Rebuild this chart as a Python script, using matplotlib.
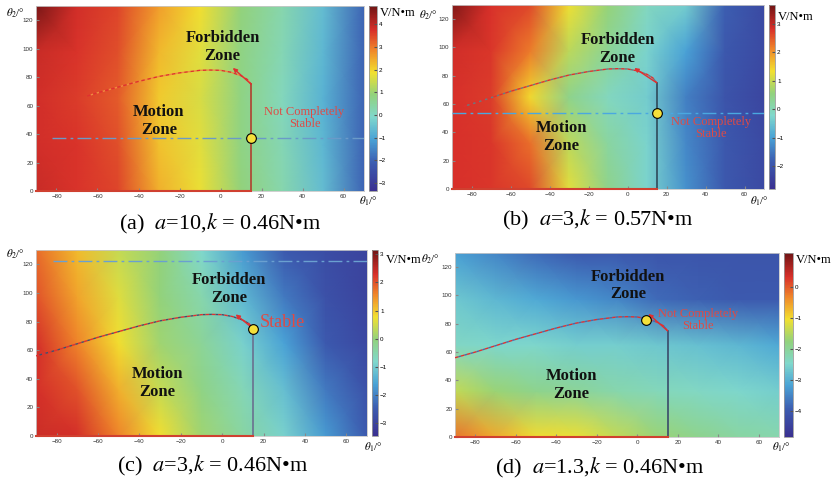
import numpy as np
import matplotlib
matplotlib.use('Agg')
import matplotlib.pyplot as plt
from matplotlib.colors import LinearSegmentedColormap

plt.rcParams['font.family'] = ['Liberation Serif', 'DejaVu Serif']
plt.rcParams['mathtext.fontset'] = 'stix'

# ---------------------------------------------------------------
# data
# ---------------------------------------------------------------
# nodes at which the potential V (N*m) was read from the colours
theta1_nodes = [-90, -70, -50, -30, -10, 10, 30, 50, 70]
theta2_nodes = [0, 32.5, 65, 97.5, 130]

V_a = [[3.9, 3.7, 3.5, 2.4, 1.8, 0.9, 0.3, -0.6, -2.0],
       [3.8, 3.7, 3.4, 2.2, 1.7, 0.8, 0.2, -0.7, -2.0],
       [3.8, 3.6, 3.3, 2.1, 1.6, 0.8, 0.1, -0.8, -2.0],
       [3.9, 3.7, 3.4, 2.3, 1.7, 0.8, 0.2, -0.7, -2.0],
       [4.7, 3.8, 3.5, 2.6, 1.9, 0.9, 0.3, -0.6, -2.0]]

V_b = [[2.8, 2.75, 2.6, 1.2, 0.4, -0.3, -1.2, -1.9, -2.2],
       [2.8, 2.75, 2.3, 0.9, 0.2, -0.3, -1.3, -1.9, -2.2],
       [2.8, 2.7, 1.4, 0.4, -0.1, -0.4, -1.4, -2.0, -2.3],
       [2.85, 2.75, 2.2, 0.9, 0.3, -0.3, -1.0, -1.9, -2.2],
       [3.5, 2.8, 2.6, 1.3, 0.6, -0.1, -0.4, -1.8, -2.2]]

V_c = [[2.4, 2.3, 1.6, 0.8, 0.1, -0.4, -0.9, -1.7, -2.5],
       [2.3, 2.0, 1.2, 0.4, -0.1, -0.6, -1.2, -2.1, -2.7],
       [2.3, 1.6, 0.8, 0.1, -0.3, -0.9, -1.6, -2.5, -2.9],
       [2.0, 1.3, 0.6, 0.0, -0.5, -1.3, -2.1, -2.7, -3.0],
       [1.8, 1.1, 0.4, 0.0, -0.8, -1.7, -2.5, -2.8, -3.0]]

V_d = [[-0.2, -0.6, -1.0, -1.1, -1.4, -1.7, -1.9, -2.1, -2.2],
       [-1.4, -1.7, -1.9, -2.0, -2.2, -2.3, -2.4, -2.5, -2.6],
       [-2.4, -2.5, -2.5, -2.6, -2.6, -2.7, -2.8, -2.9, -3.1],
       [-2.7, -2.9, -3.1, -3.3, -3.5, -3.8, -3.9, -4.0, -4.0],
       [-3.2, -3.5, -3.8, -4.0, -4.0, -4.1, -4.1, -4.1, -4.1]]

# colour limits and colorbar ticks of each panel
v_lims = [(-3.35, 4.8), (-2.8, 3.65), (-3.45, 3.15), (-4.85, 1.1)]
cbar_ticks = [range(-3, 5), range(-2, 4), range(-3, 4), range(-4, 1)]

# boundary of the forbidden zone
bound_t1 = [-90, -80, -70, -60, -50, -40, -30, -20, -10, -5, 0, 5, 10, 13, 15]
bound_t2 = [56, 60, 64.5, 69, 73, 77, 80.5, 83, 84.8, 85, 84.8, 83.5, 81, 78.5, 75]
bound_start = [-65, -84, -90, -90]

# equilibrium points and dash-dot levels
eq_t1 = [15, 15, 15, 4.5]
eq_t2 = [37, 54, 75, 83]
hline_t2 = [37, 54, 122, None]
hline_start = [-82, -90, -82, None]
arrow_tip = [(6, 86.5), (3.5, 85.5), (6.5, 85), (5.5, 87)]

captions = [r'(a)  $a$=10,$k$ = 0.46N•m',
            r'(b)  $a$=3,$k$ = 0.57N•m',
            r'(c)  $a$=3,$k$ = 0.46N•m',
            r'(d)  $a$=1.3,$k$ = 0.46N•m']
state_text = ['Not Completely\nStable', 'Not Completely\nStable',
              'Stable', 'Not Completely\nStable']

# ---------------------------------------------------------------
# layout / styles
# ---------------------------------------------------------------
W, H = 832, 487
def rect(l, t, r, b):
    return [l / W, 1 - b / H, (r - l) / W, (b - t) / H]

ax_rects = [rect(36, 6, 364, 191), rect(452, 5, 764, 189),
            rect(36, 250, 367, 436), rect(455, 253, 779, 437)]
cax_rects = [rect(369, 6, 377, 191), rect(769, 5, 775, 189),
             rect(372, 250, 378, 436), rect(784, 253, 793, 437)]
forbid_pos = [(1, 101), (-5, 99), (3.5, 103), (-4.5, 107)]
motion_pos = [(-30, 49), (-34, 37), (-31.5, 37), (-32.5, 37)]
state_pos = [(41, 51.5), (43, 43), (29, 79), (30, 83)]
state_size = [9, 9, 13, 9]
vline_col = ['#b04030', '#2f4a5a', '#6a7090', '#3a4a6a']
gap_col = ['#f08a40', '#6a7a80', '#405070', '#4a68a8']
hline_col = ['#6a9ac8', '#4aa8e0', '#6aa0d0', None]
cap_pos = [(220, 224), (598, 220), (213, 466), (600, 468)]
t2lab_pos = [(6, 13), (419, 15), (6, 254), (421, 259)]
t1lab_pos = [(359, 201), (750, 201), (364, 447), (772, 447)]
unit_pos = [(380, 13), (778, 17), (386, 260), (796, 260)]

cmap = LinearSegmentedColormap.from_list('pot', [
    (0.00, '#3a3090'), (0.15, '#3c5cb0'), (0.28, '#4aa3d6'),
    (0.40, '#80d8cc'), (0.52, '#92d27c'), (0.64, '#f2e030'),
    (0.76, '#f0882a'), (0.87, '#d8302a'), (1.00, '#701515')])

fig = plt.figure(figsize=(W / 100, H / 100), dpi=100)
T1, T2 = np.meshgrid(theta1_nodes, theta2_nodes)
fields = [V_a, V_b, V_c, V_d]

for i in range(4):
    ax = fig.add_axes(ax_rects[i])
    vmin, vmax = v_lims[i]
    mesh = ax.pcolormesh(T1, T2, np.array(fields[i]), shading='gouraud',
                         cmap=cmap, vmin=vmin, vmax=vmax)
    ax.set_xlim(-90, 70)
    ax.set_ylim(0, 130)
    ax.set_xticks(range(-80, 61, 20))
    ax.set_yticks(range(0, 121, 20))
    ax.tick_params(labelsize=4.5, length=2, direction='in', color='#888888',
                   labelfontfamily='Liberation Sans', labelcolor='#333333', pad=2)
    for s in ax.spines.values():
        s.set_color('#c8c8c8')
        s.set_linewidth(0.6)

    # forbidden-zone boundary
    bt1 = np.array(bound_t1, float)
    bt2 = np.array(bound_t2, float)
    keep = bt1 >= bound_start[i]
    t1s = np.concatenate([[bound_start[i]], bt1[keep]])
    t2s = np.concatenate([[np.interp(bound_start[i], bt1, bt2)], bt2[keep]])
    ax.plot(t1s, t2s, ls=(0, (2.5, 2)), color='#e03030', gapcolor=gap_col[i],
            lw=1.0, zorder=3)
    ax.plot([15, 15], [0, 75], color=vline_col[i], lw=1.2, zorder=3)
    ax.plot([-90, 15], [0, 0], color='#d04030', lw=1.5, zorder=3, clip_on=False)
    ax.annotate('', xy=arrow_tip[i], xytext=(15, 75),
                arrowprops=dict(arrowstyle='-|>', color='#e03030', lw=1.0,
                                mutation_scale=6, shrinkA=0, shrinkB=0), zorder=4)
    if hline_t2[i] is not None:
        ax.plot([hline_start[i], 70], [hline_t2[i]] * 2, color=hline_col[i],
                ls=(0, (10, 3, 2, 3)), lw=1.0, zorder=3)
    ax.plot(eq_t1[i], eq_t2[i], 'o', ms=7, mfc='#f5e03a', mec='black',
            mew=0.8, zorder=5)

    ax.text(*forbid_pos[i], 'Forbidden\nZone', ha='center', va='center',
            fontsize=12, fontweight='bold', color='#111111', linespacing=1.15)
    ax.text(*motion_pos[i], 'Motion\nZone', ha='center', va='center',
            fontsize=12, fontweight='bold', color='#111111', linespacing=1.15)
    ax.text(*state_pos[i], state_text[i], ha='center', va='center',
            fontsize=state_size[i], color='#e04a44', linespacing=1.0)

    cax = fig.add_axes(cax_rects[i])
    cb = fig.colorbar(mesh, cax=cax)
    cb.set_ticks(list(cbar_ticks[i]))
    cax.tick_params(labelsize=4.5, length=2, direction='in', color='#555555',
                    labelfontfamily='Liberation Sans', pad=1.5)
    cb.outline.set_edgecolor('#999999')
    cb.outline.set_linewidth(0.6)

    fig.text(unit_pos[i][0] / W, 1 - unit_pos[i][1] / H, 'V/N•m',
             ha='left', va='center', fontsize=9)
    fig.text(t2lab_pos[i][0] / W, 1 - t2lab_pos[i][1] / H, r'$\theta_2$/°',
             ha='left', va='center', fontsize=8)
    fig.text(t1lab_pos[i][0] / W, 1 - t1lab_pos[i][1] / H, r'$\theta_1$/°',
             ha='left', va='center', fontsize=8)
    fig.text(cap_pos[i][0] / W, 1 - cap_pos[i][1] / H, captions[i],
             ha='center', va='center', fontsize=16)

fig.savefig('out.png', dpi=100)
